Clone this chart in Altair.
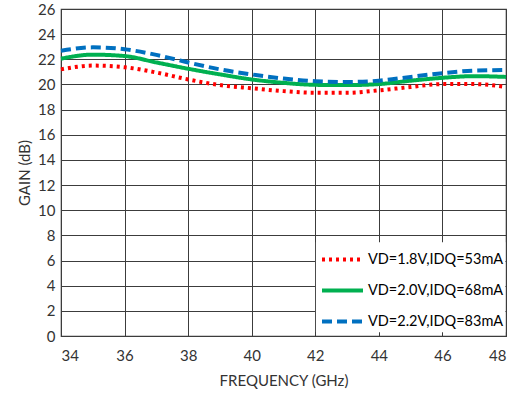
import altair as alt
import pandas as pd

freq = [34, 35, 36, 37, 38, 39, 40, 41, 42, 43, 44, 45, 46, 47, 48]
gain_18 = [21.2, 21.5, 21.37, 20.95, 20.4, 19.95, 19.7, 19.47, 19.34, 19.34, 19.53, 19.8, 20.03, 20.03, 19.8]
gain_20 = [22.05, 22.37, 22.26, 21.75, 21.25, 20.8, 20.4, 20.13, 19.97, 19.95, 20.03, 20.3, 20.53, 20.66, 20.6]
gain_22 = [22.68, 22.95, 22.8, 22.35, 21.75, 21.2, 20.8, 20.47, 20.26, 20.2, 20.3, 20.6, 20.9, 21.1, 21.15]

series = ["VD=1.8V,IDQ=53mA", "VD=2.0V,IDQ=68mA", "VD=2.2V,IDQ=83mA"]
colors = ["#FF0000", "#00B050", "#0070C0"]
dashes = [[3, 4], [1, 0], [10, 5]]

rows = []
for name, vals in zip(series, [gain_18, gain_20, gain_22]):
    for f, g in zip(freq, vals):
        rows.append({"freq": f, "gain": g, "series": name})
df = pd.DataFrame(rows)

FONT = "Lato"
TXT = "#333333"
GRID = "#3c3c3c"

x_scale = alt.Scale(domain=[34, 48], nice=False)
y_scale = alt.Scale(domain=[0, 26], nice=False)

x_axis = alt.Axis(values=list(range(34, 49, 2)), title="FREQUENCY (GHz)",
                  grid=True, gridColor=GRID, gridOpacity=1, domain=False, ticks=False,
                  labelPadding=12, titlePadding=10, labelFontSize=15, titleFontSize=15,
                  labelFont=FONT, titleFont=FONT, labelColor=TXT, titleColor=TXT,
                  titleFontWeight="normal")
y_axis = alt.Axis(values=list(range(0, 27, 2)), title="GAIN (dB)",
                  grid=True, gridColor=GRID, gridOpacity=1, domain=False, ticks=False,
                  labelPadding=6, titlePadding=5, labelFontSize=15, titleFontSize=15,
                  labelFont=FONT, titleFont=FONT, labelColor=TXT, titleColor=TXT,
                  titleFontWeight="normal")

# white background behind the legend (as in the reference, it hides the gridlines)
legend_bg = alt.Chart(pd.DataFrame({"x": [42.02], "x2": [47.98], "y": [0.3], "y2": [7.45]})).mark_rect(
    fill="white"
).encode(
    x=alt.X("x:Q", scale=x_scale, axis=x_axis), x2="x2:Q",
    y=alt.Y("y:Q", scale=y_scale, axis=y_axis), y2="y2:Q",
)

lines = alt.Chart(df).mark_line(interpolate="monotone", strokeWidth=4).encode(
    x=alt.X("freq:Q", scale=x_scale, axis=x_axis),
    y=alt.Y("gain:Q", scale=y_scale, axis=y_axis),
    color=alt.Color("series:N", scale=alt.Scale(domain=series, range=colors),
                    legend=alt.Legend(title=None, orient="none", legendX=251, legendY=220,
                                      padding=8, symbolType="stroke",
                                      symbolSize=1681, symbolStrokeWidth=4, rowPadding=-11,
                                      labelFont=FONT, labelFontSize=14.5, labelColor="#000000",
                                      labelOffset=3)),
    strokeDash=alt.StrokeDash("series:N", scale=alt.Scale(domain=series, range=dashes), legend=None),
)

chart = alt.layer(legend_bg, lines).properties(
    width=445, height=327,
    autosize=alt.AutoSizeParams(type="none"),
    padding={"left": 61, "top": 9, "right": 7, "bottom": 58},
).configure_view(stroke=GRID, strokeWidth=1.2)

chart.save("out.html", embed_options={"renderer": "svg", "actions": False})
